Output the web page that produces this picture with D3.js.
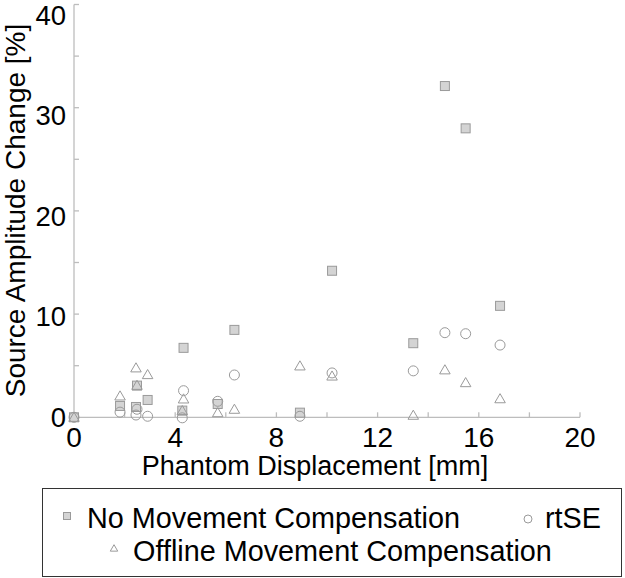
<!DOCTYPE html>
<html><head><meta charset="utf-8">
<script src="https://cdn.jsdelivr.net/npm/d3@7"></script>
<style>
body{margin:0;background:#fff;}
text{font-family:"Liberation Sans",Arial,sans-serif;fill:#000;}
</style></head>
<body><svg id="c" width="625" height="578"></svg>
<script>
const displacement = [0, 1.82, 2.45, 2.49, 2.91, 4.28, 4.33, 5.68, 6.34, 8.93, 10.2, 13.41, 14.66, 15.48, 16.84];
const noComp      = [0, 1.1, 1.0, 3.07, 1.68, 0.65, 6.73, 1.29, 8.47, 0.45, 14.2, 7.18, 32.1, 28.0, 10.8];
const rtSE        = [0, 0.5, 0.22, 0.78, 0.1, -0.05, 2.58, 1.55, 4.1, 0.1, 4.3, 4.5, 8.2, 8.1, 7.0];
const offline     = [0, 2.07, 4.79, 3.1, 4.14, 0.65, 1.78, 0.45, 0.78, 4.98, 4.0, 0.2, 4.6, 3.36, 1.8];
const xTicks = [0,2,4,6,8,10,12,14,16,18,20];
const xLabels = [0,4,8,12,16,20];
const yTicks = [0,5,10,15,20,25,30,35,40];
const yLabels = [0,10,20,30,40];
const seriesNames = ["No Movement Compensation","rtSE","Offline Movement Compensation"];

const svg = d3.select("#c");
const x = d3.scaleLinear().domain([0,20]).range([74,580]);
const y = d3.scaleLinear().domain([0,40]).range([417.3,4.5]);
const yLab = d3.scaleLinear().domain([0,40]).range([416.5,15]);
const axisCol = "#bdbdbd", mk = "#9a9a9a", fillSq = "#d4d4d4";

// axes lines
svg.append("line").attr("x1",x(0)).attr("x2",x(20)).attr("y1",y(0)).attr("y2",y(0)).attr("stroke",axisCol).attr("stroke-width",1.3);
svg.append("line").attr("x1",x(0)).attr("x2",x(0)).attr("y1",y(0)).attr("y2",y(40)).attr("stroke",axisCol).attr("stroke-width",1.3);
svg.selectAll(".xt").data(xTicks).join("line").attr("x1",d=>x(d)).attr("x2",d=>x(d))
  .attr("y1",y(0)).attr("y2",y(0)-5).attr("stroke",axisCol).attr("stroke-width",1.3);
svg.selectAll(".yt").data(yTicks).join("line").attr("x1",x(0)).attr("x2",x(0)+5)
  .attr("y1",d=>y(d)).attr("y2",d=>y(d)).attr("stroke",axisCol).attr("stroke-width",1.3);
svg.selectAll(".xl").data(xLabels).join("text").attr("x",d=>x(d)).attr("y",447)
  .attr("text-anchor","middle").attr("font-size",28).text(d=>d);
svg.selectAll(".yl").data(yLabels).join("text").attr("x",66).attr("y",d=>yLab(d)+10)
  .attr("text-anchor","end").attr("font-size",27.5).text(d=>d);
svg.append("text").attr("x",315).attr("y",475).attr("text-anchor","middle").attr("font-size",27)
  .text("Phantom Displacement [mm]");
svg.append("text").attr("transform","translate(25,210.5) rotate(-90)").attr("text-anchor","middle")
  .attr("font-size",28).text("Source Amplitude Change [%]");

// markers
const sq = 9, tri = d3.symbol().type(d3.symbolTriangle).size(48);
svg.selectAll(".sq").data(displacement).join("rect")
  .attr("x",(d,i)=>x(d)-sq/2).attr("y",(d,i)=>y(noComp[i])-sq/2).attr("width",sq).attr("height",sq)
  .attr("fill",fillSq).attr("stroke",mk).attr("stroke-width",1);
svg.selectAll(".ci").data(displacement).join("circle")
  .attr("cx",d=>x(d)).attr("cy",(d,i)=>y(rtSE[i])).attr("r",5)
  .attr("fill","none").attr("stroke",mk).attr("stroke-width",1);
svg.selectAll(".tr").data(displacement).join("path")
  .attr("d",tri).attr("transform",(d,i)=>`translate(${x(d)},${y(offline[i])+1})`)
  .attr("fill","none").attr("stroke",mk).attr("stroke-width",1);

// legend
const lg = svg.append("g");
lg.append("rect").attr("x",42.5).attr("y",488.5).attr("width",579).attr("height",88)
  .attr("fill","#fff").attr("stroke","#333").attr("stroke-width",1);
lg.append("rect").attr("x",63.5).attr("y",512.5).attr("width",7).attr("height",7)
  .attr("fill",fillSq).attr("stroke",mk);
lg.append("text").attr("x",87).attr("y",528).attr("font-size",28.8).text(seriesNames[0]);
lg.append("circle").attr("cx",528).attr("cy",519).attr("r",4).attr("fill","none").attr("stroke",mk);
lg.append("text").attr("x",545).attr("y",528).attr("font-size",28.8).text(seriesNames[1]);
lg.append("path").attr("d",d3.symbol().type(d3.symbolTriangle).size(24))
  .attr("transform","translate(114,549)").attr("fill","none").attr("stroke",mk);
lg.append("text").attr("x",133).attr("y",561).attr("font-size",28.8).text(seriesNames[2]);
</script></body></html>
